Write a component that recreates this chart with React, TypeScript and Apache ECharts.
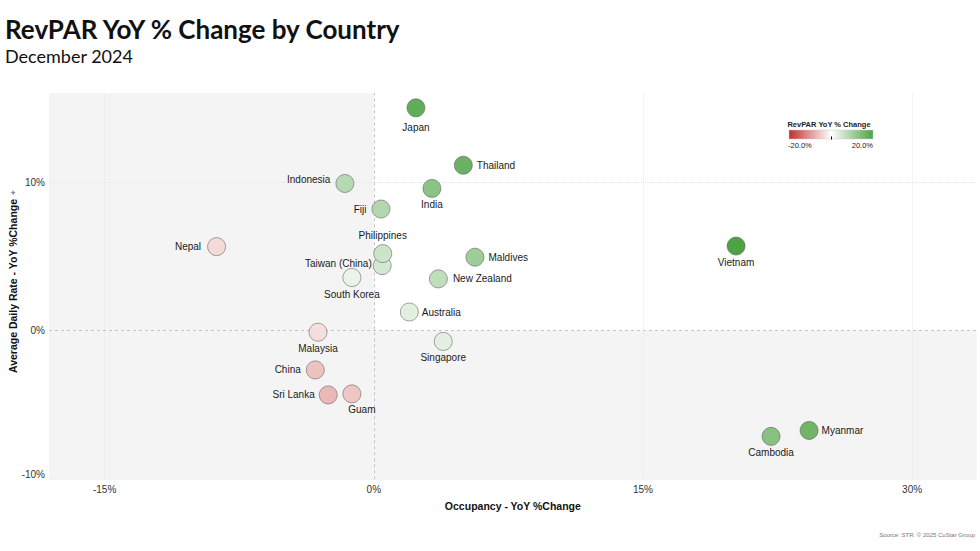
import React, { useEffect, useRef } from "react";
import * as echarts from "echarts";

const countries = [
  "Japan", "Thailand", "Indonesia", "India", "Fiji", "Nepal", "Vietnam",
  "Taiwan (China)", "Philippines", "Maldives", "South Korea", "New Zealand",
  "Australia", "Malaysia", "Singapore", "China", "Sri Lanka", "Guam",
  "Cambodia", "Myanmar",
];
const occupancyChange = [
  2.35, 4.99, -1.61, 3.24, 0.4, -8.76, 20.19,
  0.47, 0.5, 5.64, -1.22, 3.6,
  1.98, -3.11, 3.87, -3.26, -2.54, -1.22,
  22.14, 24.26,
];
const adrChange = [
  15.0, 11.14, 9.91, 9.58, 8.19, 5.66, 5.7,
  4.38, 5.19, 4.95, 3.58, 3.49,
  1.26, -0.1, -0.72, -2.64, -4.32, -4.25,
  -7.11, -6.71,
];
const revparChange = [
  17.7, 16.8, 8.2, 13.1, 8.6, -3.6, 27.2,
  4.9, 5.7, 10.8, 2.4, 7.2,
  3.3, -3.2, 3.2, -5.8, -6.8, -5.5,
  13.4, 16.0,
];
const xTicks = [-15, 0, 15, 30];
const yTicks = [-10, 0, 10];
const legendTicks = ["-20.0%", "20.0%"];

const labelPlacement: Record<string, any> = {
  Japan: { position: "bottom", distance: 2, offset: [0, 3] },
  Thailand: { position: "right", distance: 4 },
  Indonesia: { position: "left", distance: 5, offset: [0, -4] },
  India: { position: "bottom", distance: 2 },
  Fiji: { position: "left", distance: 5 },
  Nepal: { position: "left", distance: 6 },
  Vietnam: { position: "bottom", distance: 2 },
  "Taiwan (China)": { position: "left", distance: 1, offset: [0, -2] },
  Philippines: { position: "top", distance: 4 },
  Maldives: { position: "right", distance: 4 },
  "South Korea": { position: "bottom", distance: 2 },
  "New Zealand": { position: "right", distance: 5 },
  Australia: { position: "right", distance: 3 },
  Malaysia: { position: "bottom", distance: 2 },
  Singapore: { position: "bottom", distance: 2 },
  China: { position: "left", distance: 5 },
  "Sri Lanka": { position: "left", distance: 4 },
  Guam: { position: "bottom", distance: 2, offset: [10, -1] },
  Cambodia: { position: "bottom", distance: 2 },
  Myanmar: { position: "right", distance: 3 },
};

const RED = "#c0302a";
const GREEN = "#4da343";
const FONT = "Liberation Sans, Arial, sans-serif";

export default function App() {
  const ref = useRef<HTMLDivElement>(null);

  useEffect(() => {
    document.body.style.margin = "0";
    if (!ref.current) return;
    const chart = echarts.init(ref.current, undefined, { renderer: "svg" });

    const X_MIN = -18.1;
    const X_MAX = 33.6;
    const Y_MIN = -10;
    const Y_MAX = 16;

    const points = countries.map((name, i) => ({
      name,
      value: [occupancyChange[i], adrChange[i], revparChange[i]],
      label: { show: true, ...labelPlacement[name] },
    }));

    const faint = { color: "#e6e6e6", type: "dotted" as const, width: 1 };
    const zero = { color: "#c4c4c4", type: [3, 3] as any, width: 1 };

    const option: any = {
      animation: false,
      backgroundColor: "#ffffff",
      grid: { left: 49, right: 3.3, top: 93, bottom: 71.7, containLabel: false },
      xAxis: {
        type: "value",
        min: X_MIN,
        max: X_MAX,
        name: "Occupancy - YoY %Change",
        nameLocation: "middle",
        nameGap: 21,
        nameTextStyle: { fontFamily: FONT, fontSize: 10.5, fontWeight: "bold", color: "#111", verticalAlign: "top" },
        axisLine: { show: false },
        axisTick: { show: false },
        splitLine: { show: false },
        axisLabel: {
          customValues: xTicks,
          margin: 5,
          fontFamily: FONT,
          fontSize: 10,
          color: "#333",
          formatter: (v: number) => `${v}%`,
        },
      },
      yAxis: {
        type: "value",
        min: Y_MIN,
        max: Y_MAX,
        axisLine: { show: false },
        axisTick: { show: false },
        splitLine: { show: false },
        axisLabel: {
          customValues: yTicks,
          margin: 4,
          fontFamily: FONT,
          fontSize: 10,
          color: "#333",
          formatter: (v: number) => (v === Y_MIN ? `{b|${v}%}` : `{a|${v}%}`),
          rich: {
            a: { fontFamily: FONT, fontSize: 10, color: "#333" },
            b: { fontFamily: FONT, fontSize: 10, color: "#333", padding: [0, 0, 10, 0] },
          },
        },
      },
      visualMap: {
        type: "continuous",
        show: false,
        seriesIndex: 1,
        dimension: 2,
        min: -20,
        max: 20,
        inRange: { color: [RED, "#ffffff", GREEN] },
      },
      series: [
        {
          type: "scatter",
          data: [],
          silent: true,
          z: 1,
          markArea: {
            silent: true,
            itemStyle: { color: "#f4f4f4" },
            data: [
              [{ xAxis: X_MIN, yAxis: Y_MIN }, { xAxis: 0, yAxis: Y_MAX }],
              [{ xAxis: 0, yAxis: Y_MIN }, { xAxis: X_MAX, yAxis: 0 }],
            ],
          },
          markLine: {
            silent: true,
            symbol: ["none", "none"],
            label: { show: false },
            data: [
              ...xTicks.filter((t) => t !== 0).map((t) => ({ xAxis: t, lineStyle: faint })),
              ...yTicks.filter((t) => t !== 0).map((t) => ({ yAxis: t, lineStyle: faint })),
              { xAxis: 0, lineStyle: zero },
              { yAxis: 0, lineStyle: zero },
            ],
          },
        },
        {
          type: "scatter",
          z: 5,
          symbolSize: 18,
          itemStyle: { borderColor: "rgba(90,90,90,0.55)", borderWidth: 1, opacity: 1 },
          label: {
            fontFamily: FONT,
            fontSize: 10,
            color: "#1a1a1a",
            formatter: (p: any) => p.name,
          },
          data: points,
        },
      ],
      graphic: [
        {
          type: "text",
          left: 5,
          top: 16,
          style: { text: "RevPAR YoY % Change by Country", fontFamily: "Lato, sans-serif", fontWeight: "bold", fontSize: 26, fill: "#111" },
        },
        {
          type: "text",
          left: 5,
          top: 47,
          style: { text: "December 2024", fontFamily: "Lato, sans-serif", fontSize: 18, fill: "#111" },
        },
        {
          type: "text",
          x: 13,
          y: 286,
          rotation: Math.PI / 2,
          style: {
            text: "Average Daily Rate - YoY %Change",
            fontFamily: FONT,
            fontSize: 10.5,
            fontWeight: "bold",
            fill: "#111",
            align: "center",
            verticalAlign: "middle",
          },
        },
        {
          type: "text",
          x: 13,
          y: 192,
          rotation: Math.PI / 2,
          style: { text: "✦", fontSize: 8, fill: "#8a8a9a", align: "center", verticalAlign: "middle" },
        },
        {
          type: "text",
          x: 975,
          y: 535,
          style: { text: "Source: STR. © 2025 CoStar Group", fontFamily: FONT, fontSize: 6, fill: "#777", align: "right", verticalAlign: "middle" },
        },
        {
          type: "text",
          x: 829,
          y: 124,
          style: { text: "RevPAR YoY % Change", fontFamily: FONT, fontSize: 7.5, fontWeight: "bold", fill: "#222", align: "center", verticalAlign: "middle" },
        },
        {
          type: "rect",
          shape: { x: 789, y: 130, width: 84, height: 9 },
          style: {
            fill: new echarts.graphic.LinearGradient(0, 0, 1, 0, [
              { offset: 0, color: RED },
              { offset: 0.5, color: "#ffffff" },
              { offset: 1, color: GREEN },
            ]),
            stroke: "#cfcfcf",
            lineWidth: 0.5,
          },
        },
        {
          type: "line",
          shape: { x1: 831.5, y1: 136.5, x2: 831.5, y2: 139.5 },
          style: { stroke: "#000", lineWidth: 1 },
        },
        {
          type: "text",
          x: 788,
          y: 145,
          style: { text: legendTicks[0], fontFamily: FONT, fontSize: 7.5, fill: "#222", align: "left", verticalAlign: "middle" },
        },
        {
          type: "text",
          x: 873,
          y: 145,
          style: { text: legendTicks[1], fontFamily: FONT, fontSize: 7.5, fill: "#222", align: "right", verticalAlign: "middle" },
        },
      ],
    };

    chart.setOption(option);
    return () => chart.dispose();
  }, []);

  return <div ref={ref} style={{ width: 980, height: 551 }} />;
}
